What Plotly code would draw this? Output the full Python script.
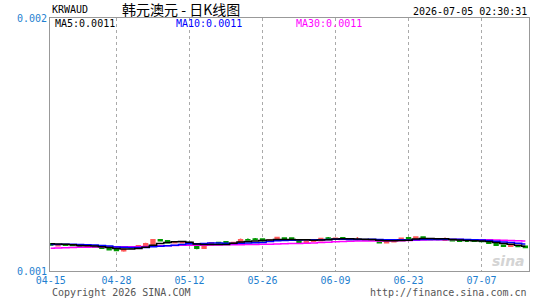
import plotly.graph_objects as go
import pandas as pd

# ---- data ----
prior_closes = [0.001074, 0.001070, 0.001072, 0.001078, 0.001074, 0.001076, 0.001082, 0.001080,
                0.001078, 0.001082, 0.001086, 0.001084, 0.001082, 0.001086, 0.001090, 0.001088,
                0.001090, 0.001094, 0.001092, 0.001096, 0.001098, 0.001096, 0.001100, 0.001102,
                0.001106, 0.001108, 0.001110, 0.001108, 0.001112]

opens = [0.001108, 0.001100, 0.001104, 0.001103, 0.001102, 0.001097, 0.001098, 0.001094, 0.001088, 0.001084,
         0.001080, 0.001094, 0.001092, 0.001098, 0.001104, 0.001124, 0.001120, 0.001112, 0.001112, 0.001113,
         0.001102, 0.001090, 0.001104, 0.001113, 0.001116, 0.001112, 0.001112, 0.001124, 0.001126, 0.001126,
         0.001122, 0.001124, 0.001130, 0.001130, 0.001120, 0.001114, 0.001118, 0.001120, 0.001130, 0.001128,
         0.001131, 0.001127, 0.001124, 0.001122, 0.001124, 0.001122, 0.001112, 0.001116, 0.001128, 0.001131,
         0.001127, 0.001134, 0.001126, 0.001125, 0.001122, 0.001124, 0.001120, 0.001118, 0.001119, 0.001120,
         0.001116, 0.001110, 0.001102, 0.001098, 0.001100, 0.001098]
highs = [0.001110, 0.001104, 0.001105, 0.001104, 0.001103, 0.001099, 0.001099, 0.001095, 0.001089, 0.001085,
         0.001088, 0.001096, 0.001102, 0.001112, 0.001126, 0.001126, 0.001121, 0.001114, 0.001114, 0.001114,
         0.001103, 0.001104, 0.001114, 0.001116, 0.001117, 0.001114, 0.001128, 0.001128, 0.001130, 0.001127,
         0.001124, 0.001134, 0.001131, 0.001131, 0.001121, 0.001126, 0.001125, 0.001129, 0.001134, 0.001130,
         0.001132, 0.001128, 0.001134, 0.001125, 0.001125, 0.001123, 0.001117, 0.001125, 0.001130, 0.001132,
         0.001135, 0.001135, 0.001127, 0.001126, 0.001132, 0.001125, 0.001121, 0.001119, 0.001120, 0.001121,
         0.001117, 0.001111, 0.001103, 0.001101, 0.001101, 0.001099]
lows = [0.001100, 0.001098, 0.001101, 0.001100, 0.001097, 0.001096, 0.001092, 0.001088, 0.001082, 0.001079,
        0.001076, 0.001090, 0.001090, 0.001097, 0.001103, 0.001118, 0.001110, 0.001110, 0.001111, 0.001106,
        0.001086, 0.001088, 0.001103, 0.001108, 0.001108, 0.001111, 0.001111, 0.001120, 0.001122, 0.001118,
        0.001121, 0.001123, 0.001122, 0.001125, 0.001112, 0.001113, 0.001117, 0.001119, 0.001126, 0.001127,
        0.001125, 0.001124, 0.001120, 0.001121, 0.001121, 0.001111, 0.001111, 0.001115, 0.001127, 0.001126,
        0.001126, 0.001127, 0.001124, 0.001124, 0.001120, 0.001119, 0.001117, 0.001117, 0.001117, 0.001116,
        0.001109, 0.001101, 0.001097, 0.001097, 0.001096, 0.001092]
closes = [0.001103, 0.001102, 0.001102, 0.001101, 0.001098, 0.001098, 0.001094, 0.001090, 0.001084, 0.001081,
          0.001086, 0.001092, 0.001100, 0.001108, 0.001124, 0.001120, 0.001112, 0.001113, 0.001113, 0.001108,
          0.001090, 0.001102, 0.001112, 0.001112, 0.001110, 0.001113, 0.001124, 0.001123, 0.001125, 0.001120,
          0.001123, 0.001132, 0.001124, 0.001126, 0.001114, 0.001122, 0.001124, 0.001128, 0.001129, 0.001129,
          0.001126, 0.001125, 0.001125, 0.001124, 0.001122, 0.001112, 0.001116, 0.001124, 0.001129, 0.001127,
          0.001134, 0.001128, 0.001125, 0.001125, 0.001124, 0.001120, 0.001118, 0.001118, 0.001118, 0.001117,
          0.001110, 0.001102, 0.001098, 0.001100, 0.001097, 0.001093]

tick_index = [0, 9, 19, 29, 39, 49, 59]
tick_labels = ["04-15", "04-28", "05-12", "05-26", "06-09", "06-23", "07-07"]
y_ticks = [0.001, 0.002]
y_tick_labels = ["0.001", "0.002"]

title_code = "KRWAUD"
title_cn = "韩元澳元 - 日K线图"
timestamp = "2026-07-05 02:30:31"
ma_labels = ["MA5:0.0011", "MA10:0.0011", "MA30:0.0011"]

# ---- derived ----
n = len(closes)
x = list(range(n))
allc = pd.Series(prior_closes + closes)
ma5 = allc.rolling(5).mean().iloc[len(prior_closes):].tolist()
ma10 = allc.rolling(10).mean().iloc[len(prior_closes):].tolist()
ma30 = allc.rolling(30).mean().iloc[len(prior_closes):].tolist()

W, H = 545, 300
L, R, T, B = 50, 16, 18, 29
pw, ph = W - L - R, H - T - B

def px(xp):
    return (xp - L) / pw

def py(yp):
    return 1 - (yp - T) / ph

MONO = "DejaVu Sans Mono"
BLUE_TXT = "#1f7fd0"

fig = go.Figure()
fig.add_trace(go.Scatter(x=x, y=ma30, mode="lines", line=dict(color="#ff00ff", width=1.5, shape="hvh"),
                         showlegend=False, hoverinfo="skip"))
fig.add_trace(go.Scatter(x=x, y=ma10, mode="lines", line=dict(color="#0000ff", width=1.5, shape="hvh"),
                         showlegend=False, hoverinfo="skip"))
fig.add_trace(go.Scatter(x=x, y=ma5, mode="lines", line=dict(color="#000000", width=1.5, shape="hvh"),
                         showlegend=False, hoverinfo="skip"))
fig.add_trace(go.Candlestick(
    x=x, open=opens, high=highs, low=lows, close=closes,
    increasing=dict(line=dict(color="#ff5a5a", width=1.5), fillcolor="#ff5a5a"),
    decreasing=dict(line=dict(color="#009900", width=1.5), fillcolor="#009900"),
    whiskerwidth=0, showlegend=False, hoverinfo="skip"))

fig.update_layout(
    width=W, height=H, margin=dict(l=L, r=R, t=T, b=B),
    paper_bgcolor="white", plot_bgcolor="white",
    boxgap=0.25,
    font=dict(family=MONO, size=10, color="#000"),
    xaxis=dict(range=[-0.1, 65.5], tickvals=tick_index, ticktext=tick_labels,
               showgrid=True, gridcolor="#aaaaaa", griddash="dot", gridwidth=1,
               showline=True, mirror=True, linecolor="#999999", linewidth=1,
               ticks="", tickfont=dict(family=MONO, size=10, color=BLUE_TXT),
               rangeslider=dict(visible=False), zeroline=False, fixedrange=True),
    yaxis=dict(range=[0.001, 0.002], tickvals=y_ticks, ticktext=y_tick_labels,
               showgrid=False, showline=True, mirror=True, linecolor="#999999", linewidth=1,
               ticks="", tickfont=dict(family=MONO, size=10, color=BLUE_TXT),
               zeroline=False, fixedrange=True),
)

ann = []
ann.append(dict(x=px(50), y=py(10), text=title_code, xanchor="left", yanchor="middle",
                font=dict(family=MONO, size=10, color="#000")))
ann.append(dict(x=px(181), y=py(9), text=title_cn, xanchor="center", yanchor="middle",
                font=dict(family="Noto Sans CJK SC", size=14, color="#000")))
ann.append(dict(x=px(529), y=py(12), text=timestamp, xanchor="right", yanchor="middle",
                font=dict(family=MONO, size=10, color="#000")))
for lab, xl, col in zip(ma_labels, [53, 174, 294], ["#000000", "#0000ff", "#ff00ff"]):
    ann.append(dict(x=px(xl), y=py(24), text=lab, xanchor="left", yanchor="middle",
                    font=dict(family=MONO, size=10, color=col)))
ann.append(dict(x=px(50), y=py(292), text="Copyright 2026 SINA.COM", xanchor="left", yanchor="middle",
                font=dict(family=MONO, size=10, color="#555555")))
ann.append(dict(x=px(529), y=py(292), text="http://finance.sina.com.cn", xanchor="right", yanchor="middle",
                font=dict(family=MONO, size=10, color="#555555")))
ann.append(dict(x=px(527), y=py(261), text="<b><i>sina</i></b>", xanchor="right", yanchor="middle",
                font=dict(family="DejaVu Sans", size=14, color="#d4d4d4")))
for a in ann:
    a.update(xref="paper", yref="paper", showarrow=False)
fig.update_layout(annotations=ann)

fig.write_html("out.html")
